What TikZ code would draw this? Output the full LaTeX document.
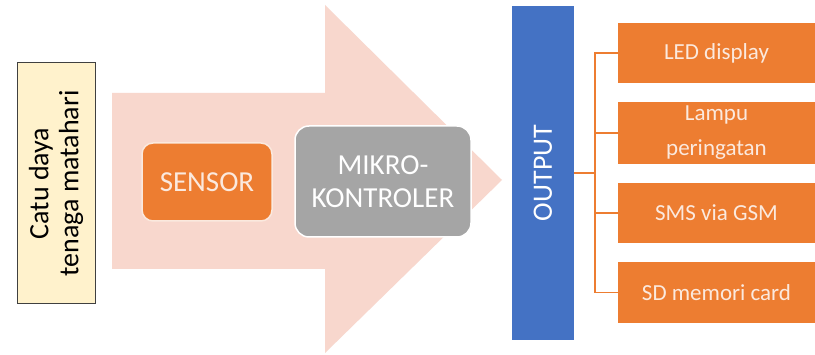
\documentclass[tikz,border=0pt]{standalone}
\usepackage{fontspec}
\setmainfont{Carlito}
\definecolor{orng}{HTML}{ED7D31}
\definecolor{pale}{HTML}{F8D7CD}
\definecolor{yel}{HTML}{FFF2CC}
\definecolor{blu}{HTML}{4472C4}
\definecolor{gry}{HTML}{A5A5A5}
\definecolor{cream}{HTML}{FBE9DE}
\begin{document}
\begin{tikzpicture}[x=1pt,y=-1pt,
  outbox/.style={fill=orng,draw=none,minimum width=197pt,minimum height=60pt,text=cream,align=center,inner sep=0pt,font=\fontsize{23}{35}\selectfont},
  link/.style={draw=orng,line width=1.6pt}]
\useasboundingbox (0,0) rectangle (815,355);
\fill[white] (0,0) rectangle (815,355);
% big arrow
\fill[pale] (112,93) -- (325,93) -- (325,5) -- (502,180) -- (325,353) -- (325,269) -- (112,269) -- cycle;
% power supply
\node[draw=black!75,line width=1pt,fill=yel,minimum width=78pt,minimum height=241pt,inner sep=0pt] (src) at (56,183.5) {};
\node[rotate=90,align=center,font=\fontsize{28}{30}\selectfont] (srct) at (src.center) {Catu daya\\tenaga matahari};
% sensor
\node[fill=orng,draw=cream,line width=1.5pt,rounded corners=11pt,minimum width=130pt,minimum height=78pt,text=cream,font=\fontsize{29}{30}\selectfont] (sen) at (207,182) {SENSOR};
% microcontroller
\node[fill=gry,draw=white,line width=1.5pt,rounded corners=14pt,minimum width=176pt,minimum height=111pt,text=white,align=center,font=\fontsize{29}{33}\selectfont] (mk) at (383,181.5) {MIKRO-\\KONTROLER};
% output
\node[fill=blu,minimum width=62pt,minimum height=334pt,inner sep=0pt] (out) at (543,173) {};
\node[rotate=90,text=white,font=\fontsize{28}{30}\selectfont] (outt) at (out.center) {OUTPUT};
% output devices
\node[outbox] (b1) at (716.5,53) {LED display};
\node[outbox,minimum height=62pt] (b2) at (716.5,133) {Lampu\\peringatan};
\node[outbox] (b3) at (716.5,213) {SMS via GSM};
\node[outbox,minimum height=61pt] (b4) at (716.5,292.5) {SD memori card};
% bracket
\coordinate (j) at (595,173);
\draw[link] (out.east |- j) -- (j);
\foreach \b in {b1,b2,b3,b4} \draw[link] (\b.west) -| (j);
\end{tikzpicture}
\end{document}
